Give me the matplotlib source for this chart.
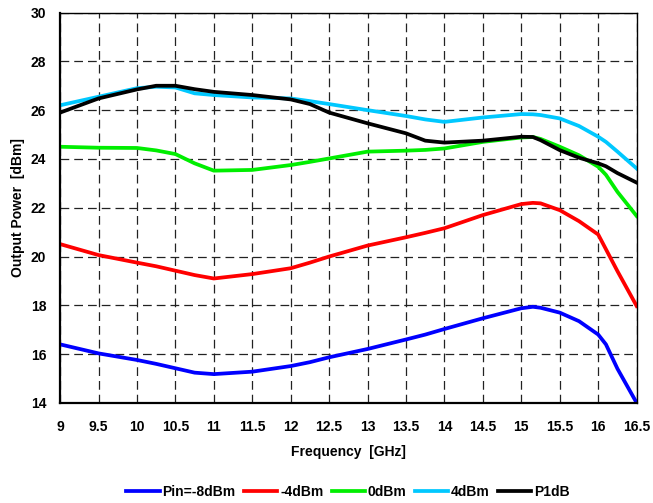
import numpy as np
import matplotlib.pyplot as plt

plt.rcParams['font.family'] = ['Liberation Sans', 'DejaVu Sans']

# frequency points [GHz]
freq = [9, 9.5, 10, 10.25, 10.5, 10.75, 11, 11.5, 12, 12.25, 12.5, 13, 13.5,
        13.75, 14, 14.5, 15, 15.15, 15.25, 15.5, 15.75, 16, 16.1, 16.25, 16.5]

pin_m8 = [16.4, 16.03, 15.76, 15.6, 15.42, 15.24, 15.18, 15.28, 15.51, 15.67, 15.87,
          16.21, 16.6, 16.8, 17.03, 17.47, 17.88, 17.94, 17.9, 17.7, 17.35, 16.8, 16.4, 15.4, 14.0]
pin_m4 = [20.51, 20.06, 19.75, 19.6, 19.42, 19.24, 19.1, 19.28, 19.52, 19.75, 20.0,
          20.45, 20.79, 20.97, 21.16, 21.7, 22.15, 22.2, 22.18, 21.9, 21.45, 20.9, 20.3, 19.4, 17.97]
pin_0 = [24.5, 24.46, 24.45, 24.35, 24.2, 23.82, 23.52, 23.55, 23.75, 23.88, 24.02,
         24.3, 24.34, 24.37, 24.43, 24.7, 24.88, 24.9, 24.82, 24.5, 24.15, 23.68, 23.35, 22.65, 21.66]
pin_4 = [26.2, 26.55, 26.9, 26.96, 26.93, 26.69, 26.62, 26.52, 26.48, 26.37, 26.25,
         26.0, 25.76, 25.62, 25.52, 25.7, 25.84, 25.83, 25.8, 25.66, 25.35, 24.91, 24.7, 24.3, 23.61]
p1db = [25.9, 26.48, 26.85, 27.0, 27.0, 26.86, 26.75, 26.62, 26.44, 26.25, 25.9,
        25.46, 25.05, 24.75, 24.67, 24.75, 24.91, 24.9, 24.77, 24.36, 24.05, 23.82, 23.7, 23.42, 23.03]

series = [(pin_m8, '#0000ff', 'Pin=-8dBm'),
          (pin_m4, '#ff0000', '-4dBm'),
          (pin_0, '#00ee00', '0dBm'),
          (pin_4, '#00c8ff', '4dBm'),
          (p1db, '#000000', 'P1dB')]

fig = plt.figure(figsize=(6.53, 5.03), dpi=100)
ax = fig.add_axes([0.092, 0.199, 0.883, 0.776])

for vals, col, lab in series:
    ax.plot(freq, vals, color=col, lw=2.7, label=lab, solid_joinstyle='round')

ax.set_xlim(9, 16.5)
ax.set_ylim(14, 30)
ax.set_xticks(np.arange(9, 16.51, 0.5))
ax.set_xticklabels(['9', '9.5', '10', '10.5', '11', '11.5', '12', '12.5', '13',
                    '13.5', '14', '14.5', '15', '15.5', '16', '16.5'])
ax.set_yticks(range(14, 31, 2))
ax.grid(True, color='#222222', ls=(0, (7, 4)), lw=0.9)
ax.tick_params(length=0, labelsize=10)
ax.tick_params(axis='x', pad=12)
ax.tick_params(axis='y', pad=10)
for t in ax.get_xticklabels() + ax.get_yticklabels():
    t.set_fontweight('bold')
for s in ['left', 'bottom']:
    ax.spines[s].set_linewidth(1.6)
for s in ['top', 'right']:
    ax.spines[s].set_linewidth(1.0)

ax.set_xlabel('Frequency  [GHz]', fontsize=10, fontweight='bold', labelpad=8)
ax.set_ylabel('Output Power  [dBm]', fontsize=10, fontweight='bold', labelpad=4)

fig.legend(loc='center', bbox_to_anchor=(0.533, 0.022), ncol=5, frameon=False,
           prop={'size': 10, 'weight': 'bold'}, handlelength=2.4, handletextpad=0.2,
           columnspacing=0.6)

fig.savefig('out.png', dpi=100)
